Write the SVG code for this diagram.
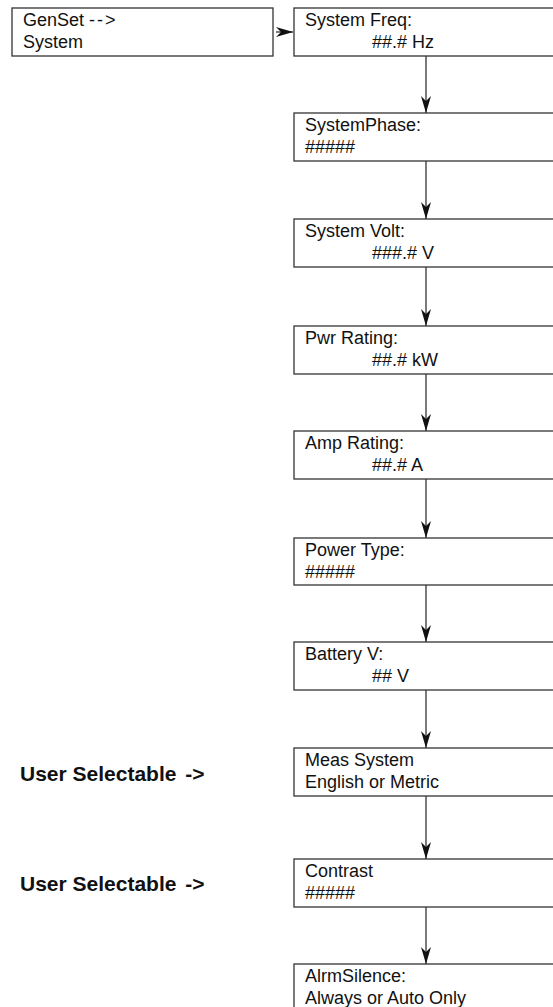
<svg xmlns="http://www.w3.org/2000/svg" width="553" height="1007" viewBox="0 0 553 1007">
<style>
.box{fill:#fff;stroke:#333;stroke-width:1.3}
.t{font-family:"Liberation Sans",Arial,Helvetica,sans-serif;font-size:18px;fill:#111}
.b{font-family:"Liberation Sans",Arial,Helvetica,sans-serif;font-size:21px;font-weight:bold;fill:#111}
.c{stroke:#333;stroke-width:1.3;fill:none}
</style>
<defs>
<marker id="ah" markerWidth="18" markerHeight="12" refX="17" refY="6" orient="auto" markerUnits="userSpaceOnUse">
<path d="M17,6 L0,1 L5,6 L0,11 Z" fill="#111"/>
</marker>
</defs>
<rect width="553" height="1007" fill="#fff"/>
<g id="connectors">
<line class="c" x1="276" y1="32" x2="293" y2="32" marker-end="url(#ah)"/>
<line class="c" x1="426" y1="56" x2="426" y2="113" marker-end="url(#ah)"/>
<line class="c" x1="426" y1="161" x2="426" y2="219" marker-end="url(#ah)"/>
<line class="c" x1="426" y1="267" x2="426" y2="326" marker-end="url(#ah)"/>
<line class="c" x1="426" y1="374" x2="426" y2="431" marker-end="url(#ah)"/>
<line class="c" x1="426" y1="479" x2="426" y2="538" marker-end="url(#ah)"/>
<line class="c" x1="426" y1="585" x2="426" y2="642" marker-end="url(#ah)"/>
<line class="c" x1="426" y1="690" x2="426" y2="748" marker-end="url(#ah)"/>
<line class="c" x1="426" y1="796" x2="426" y2="859" marker-end="url(#ah)"/>
<line class="c" x1="426" y1="907" x2="426" y2="964" marker-end="url(#ah)"/>
</g>
<g id="genset">
<rect class="box" x="12" y="8" width="261" height="48"/>
<text class="t" x="23" y="26">GenSet <tspan letter-spacing="2">--</tspan>&gt;</text>
<text class="t" x="23" y="48">System</text>
</g>
<g id="freq">
<rect class="box" x="294" y="8" width="280" height="48"/>
<text class="t" x="305" y="26">System Freq:</text>
<text class="t" x="372" y="48">##.# Hz</text>
</g>
<g id="phase">
<rect class="box" x="294" y="113" width="280" height="48"/>
<text class="t" x="305" y="131">SystemPhase:</text>
<text class="t" x="305" y="153">#####</text>
</g>
<g id="volt">
<rect class="box" x="294" y="219" width="280" height="48"/>
<text class="t" x="305" y="237">System Volt:</text>
<text class="t" x="372" y="259">###.# V</text>
</g>
<g id="pwr">
<rect class="box" x="294" y="326" width="280" height="48"/>
<text class="t" x="305" y="344">Pwr Rating:</text>
<text class="t" x="372" y="366">##.# kW</text>
</g>
<g id="amp">
<rect class="box" x="294" y="431" width="280" height="48"/>
<text class="t" x="305" y="449">Amp Rating:</text>
<text class="t" x="372" y="471">##.# A</text>
</g>
<g id="ptype">
<rect class="box" x="294" y="538" width="280" height="47"/>
<text class="t" x="305" y="556">Power Type:</text>
<text class="t" x="305" y="578">#####</text>
</g>
<g id="batt">
<rect class="box" x="294" y="642" width="280" height="48"/>
<text class="t" x="305" y="660">Battery V:</text>
<text class="t" x="372" y="682">## V</text>
</g>
<g id="meas">
<rect class="box" x="294" y="748" width="280" height="48"/>
<text class="t" x="305" y="766">Meas System</text>
<text class="t" x="305" y="788">English or Metric</text>
</g>
<g id="contrast">
<rect class="box" x="294" y="859" width="280" height="48"/>
<text class="t" x="305" y="877">Contrast</text>
<text class="t" x="305" y="899">#####</text>
</g>
<g id="alrm">
<rect class="box" x="294" y="964" width="280" height="60"/>
<text class="t" x="305" y="982">AlrmSilence:</text>
<text class="t" x="305" y="1004">Always or Auto Only</text>
</g>
<g id="user1">
<text class="b" x="20" y="781">User Selectable <tspan dx="3">-&gt;</tspan></text>
</g>
<g id="user2">
<text class="b" x="20" y="891">User Selectable <tspan dx="3">-&gt;</tspan></text>
</g>
</svg>
